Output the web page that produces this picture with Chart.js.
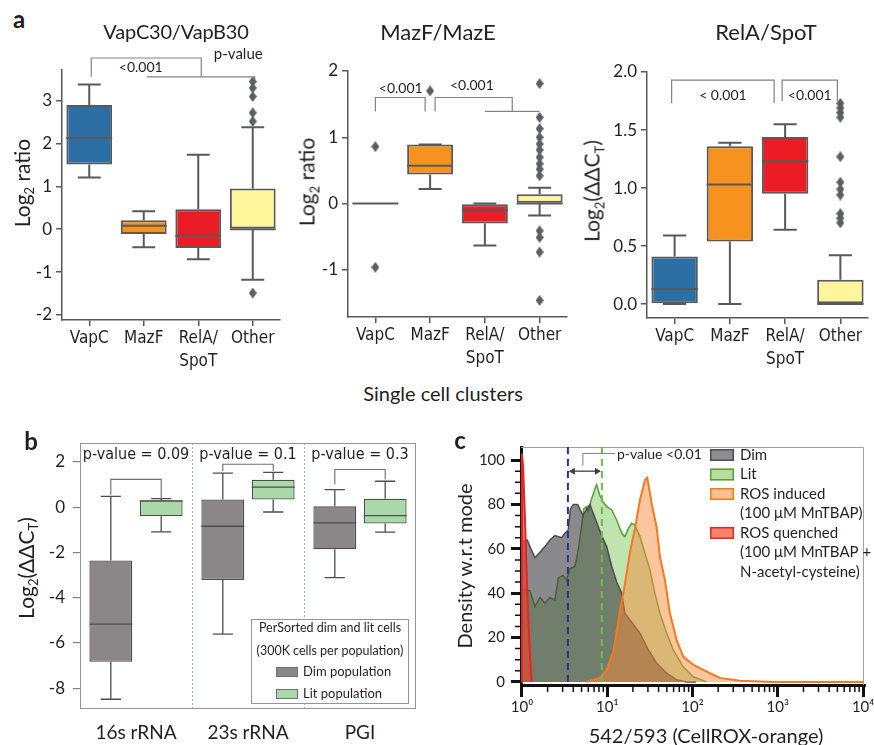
<!DOCTYPE html>
<html>
<head>
<meta charset="utf-8">
<title>Toxin clusters figure</title>
<script src="https://cdn.jsdelivr.net/npm/chart.js@4.4.1/dist/chart.umd.min.js"></script>
<style>
  body { margin: 0; background: #fff; }
  #fig { position: relative; width: 874px; height: 745px; overflow: hidden; background: #fff; color: #231f20; font-family: Lato, "Open Sans", sans-serif; }
  #fig canvas { position: absolute; }
  .t { position: absolute; white-space: nowrap; transform: translate(-50%, -50%); line-height: 1; }
  .r { transform: translate(-50%, -50%) rotate(-90deg); }
  .L { font-weight: bold; font-size: 24px; }
  sub { font-size: 0.62em; vertical-align: -0.35em; line-height: 0; }
</style>
</head>
<body>
<div id="fig">
  <canvas id="a1" width="295" height="335" style="left:0;top:40px"></canvas>
  <canvas id="a2" width="290" height="335" style="left:295px;top:40px"></canvas>
  <canvas id="a3" width="289" height="335" style="left:585px;top:40px"></canvas>
  <canvas id="b" width="440" height="325" style="left:0;top:420px"></canvas>
  <canvas id="c" width="434" height="325" style="left:440px;top:420px"></canvas>

  <div class="t L" style="left:19px;top:19px">a</div>
  <div class="t" style="left:176px;top:31px;font-size:20px;letter-spacing:-0.2px">VapC30/VapB30</div>
  <div class="t" style="left:438px;top:32px;font-size:22px">MazF/MazE</div>
  <div class="t" style="left:766px;top:32px;font-size:22px">RelA/SpoT</div>
  <div class="t r" style="left:21px;top:183px;font-size:21px">Log<sub>2</sub> ratio</div>
  <div class="t r" style="left:306px;top:182px;font-size:21px">Log<sub>2</sub> ratio</div>
  <div class="t r" style="left:591px;top:191px;font-size:21px">Log<sub>2</sub>(ΔΔC<sub>T</sub>)</div>
  <div class="t" style="left:443px;top:393px;font-size:20px">Single cell clusters</div>

  <div class="t L" style="left:31px;top:441px">b</div>
  <div class="t r" style="left:25px;top:568px;font-size:21px">Log<sub>2</sub>(ΔΔC<sub>T</sub>)</div>

  <div class="t L" style="left:460px;top:440px">c</div>
  <div class="t r" style="left:464px;top:566px;font-size:20px">Density w.r.t mode</div>
  <div class="t" style="left:706px;top:735px;font-size:20px">542/593 (CellROX-orange)</div>
</div>

<script>
const sans = 'Lato, "Open Sans", sans-serif';
const narrow = '"Liberation Sans Narrow", "DejaVu Sans Condensed", Lato, sans-serif';
const ink = '#231f20';
const boxEdge = '#58595b';
const bracketColor = '#808285';

// ---- a: single cell clusters ----
const clusters = ['VapC', 'MazF', ['RelA/', 'SpoT'], 'Other'];
const clusterColors = ['#2b6fa5', '#f7921e', '#ec1c24', '#fff59a'];

// VapC30/VapB30
const vapLow  = [1.21, -0.42, -0.70, -1.18];
const vapQ1   = [1.51, -0.11, -0.44, 0.00];
const vapMed  = [2.13, 0.08, -0.15, 0.00];
const vapQ3   = [2.90, 0.21, 0.47, 0.95];
const vapHigh = [3.38, 0.42, 1.74, 2.38];
const vapOutCat = ['Other', 'Other', 'Other', 'Other', 'Other', 'Other'];
const vapOutVal = [3.45, 3.30, 3.10, 2.72, 2.52, -1.49];

// MazF/MazE
const mazLow  = [0.00, 0.22, -0.63, -0.18];
const mazQ1   = [0.00, 0.44, -0.30, 0.00];
const mazMed  = [0.00, 0.57, -0.10, 0.00];
const mazQ3   = [0.00, 0.89, 0.00, 0.14];
const mazHigh = [0.00, 0.89, 0.00, 0.24];
const mazOutCat = ['VapC', 'VapC', 'MazF', 'Other', 'Other', 'Other', 'Other', 'Other', 'Other', 'Other', 'Other', 'Other', 'Other', 'Other', 'Other', 'Other', 'Other'];
const mazOutVal = [0.86, -0.96, 1.70, 1.81, 1.30, 1.13, 1.00, 0.90, 0.81, 0.70, 0.60, 0.52, 0.42, -0.41, -0.51, -0.73, -1.46];

// RelA/SpoT
const relLow  = [0.00, 0.00, 0.64, 0.00];
const relQ1   = [0.00, 0.54, 0.95, 0.00];
const relMed  = [0.13, 1.03, 1.23, 0.00];
const relQ3   = [0.41, 1.36, 1.44, 0.21];
const relHigh = [0.59, 1.39, 1.55, 0.42];
const relOutCat = ['Other', 'Other', 'Other', 'Other', 'Other', 'Other', 'Other', 'Other', 'Other', 'Other', 'Other'];
const relOutVal = [1.73, 1.69, 1.65, 1.61, 1.27, 1.05, 0.99, 0.94, 0.78, 0.74, 0.70];

// ---- b: sorted dim / lit cells ----
const genes = ['16s rRNA', '23s rRNA', 'PGI'];
const dimLow  = [-8.49, -5.61, -3.11];
const dimQ1   = [-6.83, -3.22, -1.86];
const dimMed  = [-5.17, -0.84, -0.69];
const dimQ3   = [-2.35, 0.34, 0.04];
const dimHigh = [0.48, 1.51, 0.78];
const litLow  = [-1.09, -0.21, -1.10];
const litQ1   = [-0.40, 0.34, -0.72];
const litMed  = [0.28, 0.89, -0.37];
const litQ3   = [0.30, 1.22, 0.38];
const litHigh = [0.38, 1.54, 1.15];
const pValues = ['p-value = 0.09', 'p-value = 0.1', 'p-value = 0.3'];

// ---- c: CellROX density ----
const dimX = [1.0, 1.15, 1.42, 1.63, 1.86, 2.13, 2.44, 2.92, 3.19, 3.49, 3.7, 4.0, 4.5, 5.2, 5.73, 6.27, 7.5, 8.6, 9.84, 11.3, 12.9, 14.8, 16.1, 19.3, 24.2, 30.3, 37.9, 49.7, 65, 85, 110];
const dimY = [63, 64, 56, 58.5, 61, 64, 66, 65, 67, 68.5, 78, 80, 80, 75, 78, 80, 72, 66, 61, 52, 45, 40, 31, 27, 22, 14.5, 8.5, 4, 1, 0, 0];
const litX = [1.0, 1.24, 1.42, 1.63, 1.86, 2.13, 2.44, 2.67, 3.05, 3.34, 3.65, 4.18, 4.6, 5.0, 5.3, 5.7, 6.0, 6.5, 7.17, 7.5, 8.2, 8.98, 9.84, 11.3, 12.9, 14.8, 16.1, 17.6, 19.3, 21.1, 24.2, 27.7, 31.7, 36.2, 41.5, 49.7, 59.4, 77.8, 102, 146];
const litY = [42, 41, 34, 38, 35.5, 38, 37, 47, 48, 46, 51, 52, 60, 70, 78, 79, 77, 82, 87, 89, 84, 81, 79, 77.5, 73, 67, 65.5, 69, 71.5, 70.7, 65.5, 58, 50.5, 40, 31, 22, 14.4, 6.8, 2.3, 0];
const rosX = [5.7, 8.2, 9.84, 11.8, 14.1, 16.1, 18.5, 21.1, 24.2, 27.7, 29.5, 33.1, 37.9, 41.5, 47.5, 54.3, 65, 77.8, 102, 134, 160, 210, 359, 880, 10000];
const rosY = [0, 1.8, 5.4, 13.6, 32, 44, 58.7, 69, 82, 91, 92, 80.6, 70, 56.4, 46, 31, 19, 11.4, 7.7, 5.4, 3.9, 1.8, 0.5, 0, 0];
const quenchX = [0.985, 0.99, 1.0, 1.03, 1.08, 1.15, 1.22, 1.3];
const quenchY = [0, 103, 103, 98, 76, 43, 17.5, 0];
const dimMarker = 3.46;
const litMarker = 8.66;
const xMajorTicks = [1, 10, 100, 1000, 10000];
const xTickLabels = ['10⁰', '10¹', '10²', '10³', '10⁴'];
const cLegendText = [['Dim'], ['Lit'], ['ROS induced', '(100 μM MnTBAP)'], ['ROS quenched', '(100 μM MnTBAP +', 'N-acetyl-cysteine)']];
const cSwatchFill = ['#8f8c91', '#b7dc9e', '#fbc08f', '#f3836b'];

function xy(xs, ys) {
  return xs.map((v, i) => ({ x: v, y: ys[i] }));
}

function diamond(w, h, color) {
  const c = document.createElement('canvas');
  c.width = w; c.height = h;
  const g = c.getContext('2d');
  g.fillStyle = color;
  g.beginPath();
  g.moveTo(w / 2, 0); g.lineTo(w, h / 2); g.lineTo(w / 2, h); g.lineTo(0, h / 2);
  g.closePath(); g.fill();
  return c;
}
const diamondImg = diamond(8, 11, '#5d5e60');

// whiskers and medians on top of the floating bars
const boxPlugin = {
  id: 'boxes',
  afterDatasetsDraw(chart) {
    const ctx = chart.ctx, y = chart.scales.y;
    chart.data.datasets.forEach((ds, i) => {
      if (!ds.low) return;
      chart.getDatasetMeta(i).data.forEach((bar, j) => {
        const { x, width } = bar.getProps(['x', 'width'], true);
        const cap = width * ds.capRatio / 2;
        const lo = y.getPixelForValue(ds.low[j]), hi = y.getPixelForValue(ds.high[j]);
        const q1 = y.getPixelForValue(ds.data[j][0]), q3 = y.getPixelForValue(ds.data[j][1]);
        const md = y.getPixelForValue(ds.med[j]);
        ctx.save();
        ctx.strokeStyle = ds.borderColor;
        ctx.lineWidth = ds.borderWidth;
        ctx.beginPath();
        ctx.moveTo(x, q3); ctx.lineTo(x, hi);
        ctx.moveTo(x - cap, hi); ctx.lineTo(x + cap, hi);
        ctx.moveTo(x, q1); ctx.lineTo(x, lo);
        ctx.moveTo(x - cap, lo); ctx.lineTo(x + cap, lo);
        ctx.moveTo(x - width / 2, md); ctx.lineTo(x + width / 2, md);
        ctx.stroke();
        ctx.restore();
      });
    });
  }
};

function bracket(ctx, x1, x2, yTop, y1, y2) {
  ctx.beginPath();
  ctx.moveTo(x1, y1); ctx.lineTo(x1, yTop); ctx.lineTo(x2, yTop); ctx.lineTo(x2, y2);
  ctx.stroke();
}

function label(ctx, text, x, y, font, align) {
  ctx.font = font;
  ctx.fillStyle = ink;
  ctx.textAlign = align || 'center';
  ctx.textBaseline = 'middle';
  ctx.fillText(text, x, y);
}

function clusterChart(id, low, q1, med, q3, high, outCat, outVal, yMin, yMax, step, digits, fit, notes) {
  return new Chart(document.getElementById(id), {
    type: 'bar',
    data: {
      labels: clusters,
      datasets: [
        {
          type: 'line',
          data: outCat.map((c, i) => ({ x: c, y: outVal[i] })),
          showLine: false,
          pointStyle: diamondImg,
          pointRadius: 5,
          order: 0
        },
        {
          data: q1.map((v, i) => [v, q3[i]]),
          backgroundColor: clusterColors,
          borderColor: boxEdge,
          borderWidth: 2,
          borderSkipped: false,
          categoryPercentage: 0.84,
          barPercentage: 1,
          low: low, med: med, high: high, capRatio: 0.5,
          order: 1
        }
      ]
    },
    options: {
      responsive: false,
      animation: false,
      layout: { padding: { top: fit.top, right: fit.right, left: 0, bottom: 0 } },
      plugins: { legend: { display: false }, tooltip: { enabled: false } },
      scales: {
        x: {
          grid: { drawOnChartArea: false, offset: false, tickLength: 6, color: boxEdge, lineWidth: 1.5 },
          border: { color: boxEdge, width: 1.5 },
          ticks: { color: ink, font: { family: narrow, size: 17, lineHeight: 1.3 }, padding: 2, maxRotation: 0, autoSkip: false },
          afterFit: s => { s.height = fit.bottom; s.paddingLeft = 0; s.paddingRight = 0; }
        },
        y: {
          min: yMin, max: yMax,
          grid: { drawOnChartArea: false, tickLength: 6, color: boxEdge, lineWidth: 1.5 },
          border: { color: boxEdge, width: 1.5 },
          ticks: { stepSize: step, includeBounds: false, color: ink, font: { family: sans, size: 17 }, padding: 4,
                   callback: v => v.toFixed(digits) },
          afterFit: s => { s.width = fit.left; s.paddingTop = 0; s.paddingBottom = 0; }
        }
      }
    },
    plugins: [boxPlugin, {
      id: 'notes',
      afterDraw(chart) {
        const ctx = chart.ctx;
        ctx.save();
        ctx.strokeStyle = bracketColor;
        ctx.lineWidth = 1.2;
        notes(ctx, i => chart.scales.x.getPixelForValue(i), v => chart.scales.y.getPixelForValue(v));
        ctx.restore();
      }
    }]
  });
}

clusterChart('a1', vapLow, vapQ1, vapMed, vapQ3, vapHigh, vapOutCat, vapOutVal, -2.12, 3.72, 1, 0,
  { left: 62, top: 30, right: 15, bottom: 55 },
  (ctx, cx, Y) => {
    bracket(ctx, cx(0) + 2, cx(2) + 3, Y(4.0), Y(3.56), Y(3.56));
    bracket(ctx, cx(1) + 3, cx(3) + 2, Y(3.56), Y(3.56), Y(3.49));
    label(ctx, '<0.001', (cx(0) + cx(2)) / 2 - 3, Y(3.78), '14px ' + sans);
    label(ctx, 'p-value', cx(2) + 40, Y(4.08), '15px ' + sans);
  });

clusterChart('a2', mazLow, mazQ1, mazMed, mazQ3, mazHigh, mazOutCat, mazOutVal, -1.71, 2.0, 1, 0,
  { left: 53, top: 31, right: 18, bottom: 58 },
  (ctx, cx, Y) => {
    bracket(ctx, cx(0), cx(1) - 5, Y(1.6), Y(1.39), Y(1.39));
    bracket(ctx, cx(1) + 5, (cx(2) + cx(3)) / 2, Y(1.6), Y(1.39), Y(1.39));
    bracket(ctx, cx(2), cx(3), Y(1.39), Y(1.39), Y(1.39));
    label(ctx, '<0.001', (cx(0) + cx(1)) / 2 - 2, Y(1.73), '14px ' + sans);
    label(ctx, '<0.001', cx(2) - 13, Y(1.78), '14px ' + sans);
  });

clusterChart('a3', relLow, relQ1, relMed, relQ3, relHigh, relOutCat, relOutVal, -0.12, 2.0, 0.5, 1,
  { left: 62, top: 32, right: 6, bottom: 57 },
  (ctx, cx, Y) => {
    bracket(ctx, cx(0) - 3, cx(2) - 11, Y(1.93), Y(1.73), Y(1.73));
    bracket(ctx, cx(2) - 3, cx(3) - 3, Y(1.93), Y(1.75), Y(1.75));
    label(ctx, '< 0.001', (cx(0) + cx(2)) / 2 - 7, Y(1.80), '14px ' + sans);
    label(ctx, '<0.001', (cx(2) + cx(3)) / 2 - 3, Y(1.80), '14px ' + sans);
  });

// ---- panel b ----
new Chart(document.getElementById('b'), {
  type: 'bar',
  data: {
    labels: genes,
    datasets: [
      { label: 'Dim population', data: dimQ1.map((v, i) => [v, dimQ3[i]]), backgroundColor: '#8b8688',
        borderColor: '#4d4d4f', borderWidth: 1.3, borderSkipped: false,
        low: dimLow, med: dimMed, high: dimHigh, capRatio: 0.47 },
      { label: 'Lit population', data: litQ1.map((v, i) => [v, litQ3[i]]), backgroundColor: '#a9d9a9',
        borderColor: '#4d4d4f', borderWidth: 1.3, borderSkipped: false,
        low: litLow, med: litMed, high: litHigh, capRatio: 0.47 }
    ]
  },
  options: {
    responsive: false,
    animation: false,
    layout: { padding: { top: 23, right: 24, left: 0, bottom: 0 } },
    datasets: { bar: { categoryPercentage: 0.9, barPercentage: 0.85 } },
    plugins: { legend: { display: false }, tooltip: { enabled: false } },
    scales: {
      x: {
        grid: { display: false },
        border: { display: false },
        ticks: { color: ink, font: { family: sans, size: 19 }, padding: 4, maxRotation: 0 },
        afterFit: s => { s.height = 36; s.paddingLeft = 0; s.paddingRight = 0; }
      },
      y: {
        min: -8.92, max: 2.84,
        grid: { drawOnChartArea: false, tickLength: 7, color: '#808285', lineWidth: 1.2 },
        border: { display: false },
        ticks: { stepSize: 2, includeBounds: false, color: ink, font: { family: sans, size: 17 }, padding: 8 },
        afterFit: s => { s.width = 80; s.paddingTop = 0; s.paddingBottom = 0; }
      }
    }
  },
  plugins: [boxPlugin, {
    id: 'bNotes',
    afterDraw(chart) {
      const { ctx, chartArea: a } = chart;
      const x = chart.scales.x, Y = v => chart.scales.y.getPixelForValue(v);
      const dm = chart.getDatasetMeta(0).data, lm = chart.getDatasetMeta(1).data;
      ctx.save();
      // dashed dividers between genes
      ctx.strokeStyle = '#9fbf9f';
      ctx.lineWidth = 1;
      ctx.setLineDash([2, 2]);
      for (let i = 0; i < genes.length - 1; i++) {
        const px = Math.round((x.getPixelForValue(i) + x.getPixelForValue(i + 1)) / 2) + 0.5;
        ctx.beginPath(); ctx.moveTo(px, a.top); ctx.lineTo(px, a.bottom); ctx.stroke();
      }
      ctx.setLineDash([]);
      ctx.strokeStyle = '#939598';
      ctx.strokeRect(a.left + 0.5, a.top + 0.5, a.right - a.left - 1, a.bottom - a.top - 1);
      // comparison brackets and p-values
      ctx.strokeStyle = '#6d6e71';
      ctx.lineWidth = 1.1;
      const tops = [1.23, 1.9, 1.67], lefts = [0.55, 1.6, 1.0], rights = [0.42, 1.6, 1.23];
      for (let i = 0; i < genes.length; i++) {
        bracket(ctx, dm[i].x, lm[i].x, Y(tops[i]), Y(lefts[i]), Y(rights[i]));
        label(ctx, pValues[i], x.getPixelForValue(i), Y(2.32), '16px ' + narrow);
      }
      // legend box
      ctx.fillStyle = '#fff';
      ctx.fillRect(251, 199, 157, 84);
      ctx.strokeStyle = '#939598';
      ctx.lineWidth = 1;
      ctx.strokeRect(251.5, 199.5, 157, 84);
      label(ctx, 'PerSorted dim and lit cells', 330, 208, '12.5px ' + sans);
      label(ctx, '(300K cells per population)', 330, 231, '12.5px ' + sans);
      chart.data.datasets.forEach((ds, i) => {
        const ly = 252 + i * 22;
        ctx.fillStyle = ds.backgroundColor;
        ctx.fillRect(276, ly - 5, 22, 10);
        ctx.strokeStyle = '#6d6e71';
        ctx.strokeRect(276.5, ly - 4.5, 21, 9);
        label(ctx, ds.label, 303, ly, '13px ' + sans, 'left');
      });
      ctx.restore();
    }
  }]
});

// ---- panel c ----
new Chart(document.getElementById('c'), {
  type: 'line',
  data: {
    datasets: [
      { label: 'ROS induced', data: xy(rosX, rosY), borderColor: '#f47920', borderWidth: 2,
        backgroundColor: 'rgba(248,140,60,0.5)', fill: 'origin', order: 0 },
      { label: 'ROS quenched', data: xy(quenchX, quenchY), borderColor: '#ec2227', borderWidth: 2,
        backgroundColor: 'rgba(222,72,50,0.7)', fill: 'origin', order: 1 },
      { label: 'Dim', data: xy(dimX, dimY), borderColor: '#4d4d4f', borderWidth: 1.5,
        backgroundColor: 'rgba(60,58,62,0.6)', fill: 'origin', order: 2 },
      { label: 'Lit', data: xy(litX, litY), borderColor: '#5a9e35', borderWidth: 1.5,
        backgroundColor: 'rgba(130,200,95,0.5)', fill: 'origin', order: 3 }
    ]
  },
  options: {
    responsive: false,
    animation: false,
    layout: { padding: { top: 27, right: 10, left: 0, bottom: 0 } },
    elements: { point: { radius: 0 }, line: { tension: 0 } },
    plugins: { legend: { display: false }, tooltip: { enabled: false } },
    scales: {
      x: {
        type: 'logarithmic',
        min: 0.975, max: 10250,
        afterBuildTicks: s => { s.ticks = xMajorTicks.map(v => ({ value: v })); },
        grid: { drawOnChartArea: false, tickLength: 12, color: '#111', lineWidth: 3 },
        border: { color: '#111', width: 3 },
        ticks: { color: ink, font: { family: sans, size: 15 }, padding: 1, maxRotation: 0,
                 callback: (v, i) => xTickLabels[i] },
        afterFit: s => { s.height = 60; s.paddingLeft = 0; s.paddingRight = 0; }
      },
      y: {
        min: -1.4, max: 105.9,
        grid: { drawOnChartArea: false, tickLength: 10, color: '#111', lineWidth: 3 },
        border: { color: '#111', width: 3 },
        ticks: { stepSize: 20, includeBounds: false, color: ink, font: { family: sans, size: 15 }, padding: 6 },
        afterFit: s => { s.width = 81; s.paddingTop = 0; s.paddingBottom = 0; }
      }
    }
  },
  plugins: [{
    id: 'cNotes',
    afterDraw(chart) {
      const { ctx, chartArea: a } = chart;
      const x = chart.scales.x, y = chart.scales.y;
      ctx.save();
      // frame top / right
      ctx.strokeStyle = '#9d9fa2';
      ctx.lineWidth = 1;
      ctx.beginPath();
      ctx.moveTo(a.left, a.top + 0.5); ctx.lineTo(a.right - 0.5, a.top + 0.5); ctx.lineTo(a.right - 0.5, a.bottom);
      ctx.stroke();
      // minor ticks
      ctx.strokeStyle = '#111';
      ctx.lineWidth = 1.5;
      ctx.beginPath();
      for (let v = 5; v < 100; v += 5) {
        if (v % 20 === 0) continue;
        const py = y.getPixelForValue(v);
        ctx.moveTo(a.left - 6, py); ctx.lineTo(a.left, py);
      }
      for (let d = 0; d < xMajorTicks.length - 1; d++) {
        for (let m = 2; m <= 9; m++) {
          const px = x.getPixelForValue(xMajorTicks[d] * m);
          ctx.moveTo(px, a.bottom); ctx.lineTo(px, a.bottom + 7);
        }
      }
      ctx.stroke();
      // dim / lit marker lines
      const pd = x.getPixelForValue(dimMarker), pl = x.getPixelForValue(litMarker);
      ctx.lineWidth = 2;
      ctx.setLineDash([7, 5]);
      ctx.strokeStyle = '#2e3192';
      ctx.beginPath(); ctx.moveTo(pd, a.top); ctx.lineTo(pd, a.bottom); ctx.stroke();
      ctx.strokeStyle = '#6cbe45';
      ctx.beginPath(); ctx.moveTo(pl, a.top); ctx.lineTo(pl, a.bottom); ctx.stroke();
      ctx.setLineDash([]);
      // double arrow and p-value
      const ay = y.getPixelForValue(95);
      ctx.strokeStyle = '#414042';
      ctx.fillStyle = '#414042';
      ctx.lineWidth = 1.3;
      ctx.beginPath(); ctx.moveTo(pd + 2, ay); ctx.lineTo(pl - 2, ay); ctx.stroke();
      ctx.beginPath();
      ctx.moveTo(pd + 1, ay); ctx.lineTo(pd + 7, ay - 3.5); ctx.lineTo(pd + 7, ay + 3.5); ctx.closePath();
      ctx.moveTo(pl - 1, ay); ctx.lineTo(pl - 7, ay - 3.5); ctx.lineTo(pl - 7, ay + 3.5); ctx.closePath();
      ctx.fill();
      ctx.strokeStyle = '#808285';
      ctx.lineWidth = 1;
      const bx = (pd + pl) / 2 - 2, by = y.getPixelForValue(103);
      ctx.beginPath(); ctx.moveTo(bx, y.getPixelForValue(97.5)); ctx.lineTo(bx, by); ctx.lineTo(pl + 13, by); ctx.stroke();
      label(ctx, 'p-value <0.01', pl + 15, by + 1, '14px ' + sans, 'left');
      // legend
      const order = [2, 3, 0, 1];
      let line = 0;
      cLegendText.forEach((rows, k) => {
        const ds = chart.data.datasets[order[k]];
        const ly = a.top + 8 + line * 19.5;
        ctx.fillStyle = cSwatchFill[k];
        ctx.fillRect(270, ly - 6, 24, 12);
        ctx.strokeStyle = ds.borderColor;
        ctx.lineWidth = 1.5;
        ctx.strokeRect(270.75, ly - 5.25, 22.5, 10.5);
        rows.forEach(t => {
          label(ctx, t, 300, a.top + 8 + line * 19.5, '15px ' + sans, 'left');
          line++;
        });
      });
      ctx.restore();
    }
  }]
});
</script>
</body>
</html>
